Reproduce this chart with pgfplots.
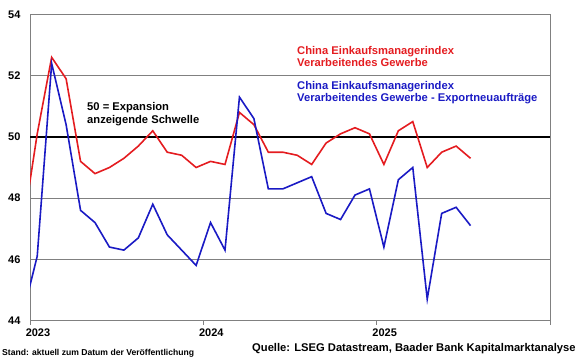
\documentclass[border=0pt]{standalone}
\usepackage{pgfplots}
\pgfplotsset{compat=1.18}
\usepackage{fontspec}
\setmainfont{Liberation Sans}
\definecolor{cred}{RGB}{228,28,32}
\definecolor{cblue}{RGB}{26,26,196}
\definecolor{gridc}{RGB}{128,128,128}
\begin{document}
\begin{tikzpicture}[x=1pt,y=1pt]
\useasboundingbox (0,0) rectangle (580,359);
\begin{axis}[
  at={(30pt,38.5pt)}, anchor=south west,
  scale only axis, width=520pt, height=306pt,
  xmin=0, xmax=36, ymin=44, ymax=54,
  axis line style={gridc, line width=0.8pt},
  ytick={44,46,48,50,52,54},
  xtick={0,12,24,36},
  xticklabels={2023,2024,2025,{}},
  ymajorgrids, major grid style={gridc, line width=0.8pt},
  xtick pos=bottom, ytick pos=left, tick align=outside,
  xtick style={gridc, line width=0.8pt},
  ytick style={draw=none},
  major tick length=4pt,
  tick label style={font=\bfseries\fontsize{11}{13}\selectfont, text=black},
  /pgf/number format/assume math mode=true,
  xticklabel style={xshift=8pt, yshift=-1pt},
  yticklabel style={xshift=-2pt},
  clip=true,
]
\addplot[black, line width=1.6pt] coordinates {(0,50)(36,50)};
\addplot[cred, line width=1.6pt] coordinates {
(-0.5,47.0)(0.5,50.1)(1.5,52.6)(2.5,51.9)(3.5,49.2)(4.5,48.8)(5.5,49.0)(6.5,49.3)(7.5,49.7)(8.5,50.2)(9.5,49.5)(10.5,49.4)(11.5,49.0)
(12.5,49.2)(13.5,49.1)(14.5,50.8)(15.5,50.4)(16.5,49.5)(17.5,49.5)(18.5,49.4)(19.5,49.1)(20.5,49.8)(21.5,50.1)(22.5,50.3)(23.5,50.1)
(24.5,49.1)(25.5,50.2)(26.5,50.5)(27.5,49.0)(28.5,49.5)(29.5,49.7)(30.5,49.3)};
\addplot[cblue, line width=1.6pt] coordinates {
(-0.5,44.2)(0.5,46.1)(1.5,52.4)(2.5,50.4)(3.5,47.6)(4.5,47.2)(5.5,46.4)(6.5,46.3)(7.5,46.7)(8.5,47.8)(9.5,46.8)(10.5,46.3)(11.5,45.8)
(12.5,47.2)(13.5,46.3)(14.5,51.3)(15.5,50.6)(16.5,48.3)(17.5,48.3)(18.5,48.5)(19.5,48.7)(20.5,47.5)(21.5,47.3)(22.5,48.1)(23.5,48.3)
(24.5,46.4)(25.5,48.6)(26.5,49.0)(27.5,44.7)(28.5,47.5)(29.5,47.7)(30.5,47.1)};
\draw[gridc, line width=0.8pt] (rel axis cs:1,0) -- (rel axis cs:1,1);
\end{axis}
\begin{scope}[every node/.style={inner sep=0pt, anchor=base west, font=\bfseries\fontsize{11.2}{13}\selectfont}]
\node[text=cred] at (297,359-54.3) {China Einkaufsmanagerindex};
\node[text=cred] at (297,359-66.7) {Verarbeitendes Gewerbe};
\node[text=cblue] at (297,359-89.3) {China Einkaufsmanagerindex};
\node[text=cblue] at (297,359-102) {Verarbeitendes Gewerbe - Exportneuaufträge};
\node at (87,359-111) {50 = Expansion};
\node at (87,359-123.5) {anzeigende Schwelle};
\node[font=\bfseries\fontsize{11.2}{13}\selectfont] at (252,359-351.7) {Quelle: LSEG Datastream, Baader Bank Kapitalmarktanalyse};
\node[font=\bfseries\fontsize{8.6}{9}\selectfont] at (2,359-355) {Stand: aktuell zum Datum der Veröffentlichung};
\end{scope}
\end{tikzpicture}
\end{document}
